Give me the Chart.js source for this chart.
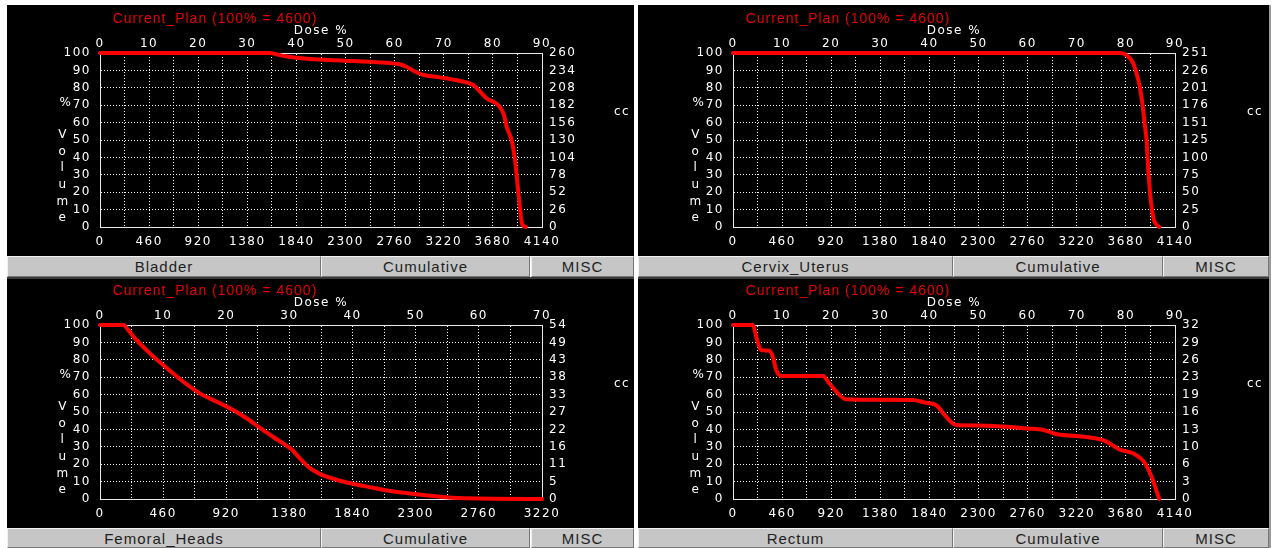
<!DOCTYPE html>
<html>
<head>
<meta charset="utf-8">
<script src="https://cdn.jsdelivr.net/npm/chart.js@4.4.1/dist/chart.umd.min.js"></script>
<style>
  html, body { margin: 0; padding: 0; background: #ffffff; }
  body { width: 1276px; height: 548px; position: relative; overflow: hidden; }
  .pane { position: absolute; background: #000000; }
  canvas { position: absolute; }
  .btn {
    position: absolute; box-sizing: border-box; background: #c6c6c6;
    border-top: 1px solid #f2f2f2; border-left: 1px solid #f2f2f2;
    border-right: 1px solid #767676; border-bottom: 1px solid #767676;
    font: 15px "Liberation Sans", Arial, sans-serif; letter-spacing: 1px;
    color: #1e1e1e; text-align: center; line-height: 19px;
  }
  .rule { position: absolute; background: #3a3a3a; }
  .edge { position: absolute; background: #9a9a9a; }
</style>
</head>
<body>
<div class="pane" style="left:7px;top:5px;width:627px;height:251px"></div>
<div class="pane" style="left:638px;top:5px;width:631px;height:251px"></div>
<div class="pane" style="left:7px;top:279px;width:627px;height:249px"></div>
<div class="pane" style="left:638px;top:279px;width:631px;height:249px"></div>
<div class="edge" style="left:1269px;top:5px;width:2px;height:543px"></div>
<div class="rule" style="left:7px;top:277px;width:627px;height:2px"></div>
<div class="rule" style="left:638px;top:277px;width:631px;height:2px"></div>

<canvas id="cBladder" width="626" height="250" style="left:7px;top:5px"></canvas>
<canvas id="cCervix" width="626" height="250" style="left:640px;top:5px"></canvas>
<canvas id="cFemoral" width="626" height="250" style="left:7px;top:277px"></canvas>
<canvas id="cRectum" width="626" height="250" style="left:640px;top:277px"></canvas>

<div class="btn" style="left:7px;top:256px;width:314px;height:21px">Bladder</div>
<div class="btn" style="left:321px;top:256px;width:209px;height:21px">Cumulative</div>
<div class="btn" style="left:531px;top:256px;width:103px;height:21px">MISC</div>
<div class="btn" style="left:638px;top:256px;width:315px;height:21px">Cervix_Uterus</div>
<div class="btn" style="left:953px;top:256px;width:210px;height:21px">Cumulative</div>
<div class="btn" style="left:1163px;top:256px;width:106px;height:21px">MISC</div>
<div class="btn" style="left:7px;top:528px;width:314px;height:20px">Femoral_Heads</div>
<div class="btn" style="left:321px;top:528px;width:209px;height:20px">Cumulative</div>
<div class="btn" style="left:531px;top:528px;width:103px;height:20px">MISC</div>
<div class="btn" style="left:638px;top:528px;width:315px;height:20px">Rectum</div>
<div class="btn" style="left:953px;top:528px;width:210px;height:20px">Cumulative</div>
<div class="btn" style="left:1163px;top:528px;width:106px;height:20px">MISC</div>

<script>
// Cumulative DVH curves: dose in % of prescription, volume in % of structure
const planTitle = 'Current_Plan (100% = 4600)';
const doseAxisTitle = 'Dose %';

const bladderDose = [0, 34.5, 37, 40, 44.8, 51.6, 58.4, 61, 62.4, 64, 65.8, 69.2, 73.3, 76, 77.5, 78.7, 81.4, 82.3, 82.8, 83.8, 84.5, 85.2, 85.9, 86.3, 86.7];
const bladderVol  = [100, 100, 98.5, 97.3, 96.2, 95.4, 94.4, 93.5, 92.1, 89.5, 87.4, 86, 83.9, 81.6, 77.5, 74, 69.1, 64, 57.6, 50, 38.5, 19.4, 2.1, 0.5, 0];

const cervixDose = [0, 78.8, 80, 80.8, 81.5, 82.0, 82.8, 83.4, 83.8, 84.2, 84.6, 85.2, 85.7, 86.2, 86.8];
const cervixVol  = [100, 100, 99, 97, 94, 90, 81, 70, 60, 50, 31, 12, 4, 1.5, 0];

const femoralDose = [0, 3.7, 4.5, 5.3, 7.9, 10.6, 13.2, 15.8, 18.5, 21.1, 23.2, 25.5, 27.5, 29.4, 30.5, 31.4, 32.4, 33.3, 34.5, 35.9, 38, 40, 42.3, 45, 48.8, 52, 55.3, 58, 62, 70];
const femoralVol  = [100, 100, 97, 93.3, 83.7, 75.1, 67.4, 60.7, 55.9, 51.1, 46.4, 40.5, 35.5, 31, 28, 24.3, 20.5, 17.6, 15, 12.8, 10.5, 8.8, 7.1, 5.2, 3.3, 2, 0.8, 0.4, 0.1, 0];

const rectumDose = [0, 4.0, 5.0, 5.7, 7.4, 8.1, 8.8, 9.8, 18.3, 19.6, 21.7, 23.0, 30, 36.6, 39, 41.3, 43.4, 44.5, 45.4, 50, 54.9, 60, 63.2, 65.7, 71.5, 75.6, 78.9, 81.4, 83.9, 85.5, 86.2, 86.8];
const rectumVol  = [100, 100, 90.5, 85.6, 85.2, 81.8, 74.1, 70.7, 70.7, 66.5, 59.8, 57.3, 57, 56.9, 55.5, 54, 47.3, 44, 42.5, 42.3, 41.6, 40.5, 39.7, 37.4, 35.8, 33.5, 28.2, 26.3, 20.5, 10.9, 5, 0];

// Axis tick labels (bottom: dose in cGy; right: absolute volume in cc, top to bottom)
const cgyLabels90 = ['0', '460', '920', '1380', '1840', '2300', '2760', '3220', '3680', '4140'];
const cgyLabels70 = ['0', '460', '920', '1380', '1840', '2300', '2760', '3220'];
const bladderCc = ['260', '234', '208', '182', '156', '130', '104', '78', '52', '26', '0'];
const cervixCc  = ['251', '226', '201', '176', '151', '125', '100', '75', '50', '25', '0'];
const femoralCc = ['54', '49', '43', '38', '33', '27', '22', '16', '11', '5', '0'];
const rectumCc  = ['32', '29', '26', '23', '19', '16', '13', '10', '6', '3', '0'];
const volumeLetters = ['V', 'o', 'l', 'u', 'm', 'e'];

const WHITE = '#ffffff';
const FRAME = '#e8e8e8';
const tickFont = { family: 'DejaVu Sans', size: 12 };

const panelLabels = {
  id: 'panelLabels',
  beforeDraw(chart) { chart.ctx.letterSpacing = '1.5px'; },
  afterDraw(chart) {
    const { ctx, chartArea: a } = chart;
    ctx.save();
    ctx.textAlign = 'center';
    ctx.textBaseline = 'middle';
    ctx.letterSpacing = '1px';
    ctx.font = '14px "Liberation Sans"';
    ctx.fillStyle = '#e80000';
    ctx.fillText(planTitle, a.left + 115, a.top - 34);
    ctx.letterSpacing = '1.5px';
    ctx.font = '12px "DejaVu Sans"';
    ctx.fillStyle = WHITE;
    ctx.fillText(doseAxisTitle, a.left + 221, a.top - 22);
    ctx.fillText('%', a.left - 34, a.top + 50);
    volumeLetters.forEach((ch, i) => ctx.fillText(ch, a.left - 37, a.top + 82 + i * 16.6));
    ctx.fillText('cc', a.right + 80, a.top + 59);
    ctx.restore();
  }
};

function drawPanel(canvasId, dose, vol, maxDose, cgyLabels, ccLabels) {
  const points = dose.map((d, i) => ({ x: d, y: vol[i] }));
  return new Chart(document.getElementById(canvasId), {
    type: 'line',
    data: {
      datasets: [{
        data: points,
        xAxisID: 'xTop',
        yAxisID: 'y',
        borderColor: '#ff0000',
        borderWidth: 4,
        pointRadius: 0,
        cubicInterpolationMode: 'monotone',
        borderJoinStyle: 'round',
        borderCapStyle: 'round',
        clip: false
      }]
    },
    options: {
      responsive: false,
      animation: false,
      devicePixelRatio: 1,
      layout: { padding: 0 },
      plugins: { legend: { display: false }, tooltip: { enabled: false } },
      scales: {
        xTop: {
          type: 'linear', position: 'top', axis: 'x', min: 0, max: maxDose,
          afterFit: s => { s.height = 48; },
          ticks: {
            stepSize: 5, autoSkip: false, maxRotation: 0, color: WHITE, font: tickFont, padding: 2,
            callback: v => (v % 10 === 0 ? String(v) : '')
          },
          grid: { color: WHITE, lineWidth: 1, drawTicks: false },
          border: { display: true, color: FRAME, width: 1, dash: [1, 2] }
        },
        x: {
          type: 'linear', position: 'bottom', min: 0, max: (cgyLabels.length - 1) * 460,
          afterFit: s => { s.height = 28; },
          ticks: {
            stepSize: 460, autoSkip: false, maxRotation: 0, color: WHITE, font: tickFont, padding: 8,
            callback: (v, i) => cgyLabels[i]
          },
          grid: { display: false, drawTicks: false },
          border: { display: true, color: FRAME, width: 1 }
        },
        y: {
          type: 'linear', position: 'left', min: 0, max: 100,
          afterFit: s => { s.width = 93; },
          ticks: { stepSize: 10, color: WHITE, font: tickFont, padding: 9 },
          grid: { color: WHITE, lineWidth: 1, drawTicks: false },
          border: { display: true, color: FRAME, width: 1, dash: [1, 2] }
        },
        y2: {
          type: 'linear', position: 'right', min: 0, max: 100,
          afterFit: s => { s.width = 91; },
          ticks: {
            stepSize: 10, color: WHITE, font: tickFont, padding: 7,
            callback: v => ccLabels[10 - Math.round(v / 10)]
          },
          grid: { display: false, drawTicks: false },
          border: { display: true, color: FRAME, width: 1 }
        }
      }
    },
    plugins: [panelLabels]
  });
}

drawPanel('cBladder', bladderDose, bladderVol, 90, cgyLabels90, bladderCc);
drawPanel('cCervix', cervixDose, cervixVol, 90, cgyLabels90, cervixCc);
drawPanel('cFemoral', femoralDose, femoralVol, 70, cgyLabels70, femoralCc);
drawPanel('cRectum', rectumDose, rectumVol, 90, cgyLabels90, rectumCc);
</script>
</body>
</html>
